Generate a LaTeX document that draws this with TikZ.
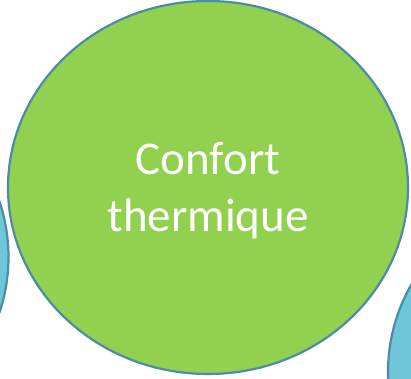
\documentclass[tikz,border=0pt]{standalone}
\usepackage{fontspec}
\setmainfont{Carlito}
\usetikzlibrary{shapes.geometric}
\definecolor{bubgreen}{HTML}{92D050}
\definecolor{bubblue}{HTML}{6FC6D9}
\definecolor{bubline}{HTML}{4C8CA6}
\tikzset{
  bubble/.style={ellipse, draw=bubline, line width=2.2pt, inner sep=0pt,
    minimum width=400pt, minimum height=373pt},
  bubtext/.style={text=white, align=center, font=\fontsize{47}{57}\selectfont}
}
\begin{document}
\begin{tikzpicture}[x=1pt,y=1pt]
\useasboundingbox (0,0) rectangle (411,378);
\node[bubble, fill=bubblue] (left) at (-191.5,121) {};
\node[bubble, fill=bubblue] (right) at (588,6) {};
\node[bubble, fill=bubgreen] (main) at (208,190.5) {};
\node[bubtext] (label) at ([yshift=-3pt]main.center) {Confort\\thermique};
\end{tikzpicture}
\end{document}
